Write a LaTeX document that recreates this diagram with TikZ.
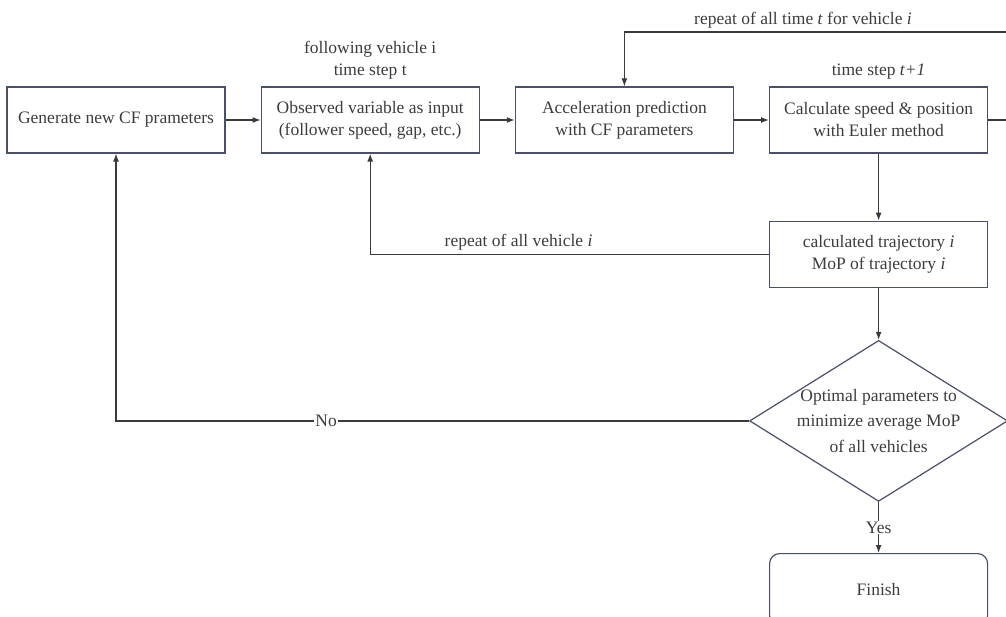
\documentclass[tikz,border=0pt]{standalone}
\usepackage{fontspec}
\setmainfont{Liberation Serif}
\usepackage{tikz}
\usetikzlibrary{arrows.meta,positioning,calc,shapes.geometric}
\definecolor{boxc}{HTML}{4A4F6C}
\definecolor{linec}{HTML}{3A3A3A}
\definecolor{txtc}{HTML}{3C3C3C}
\begin{document}
\begin{tikzpicture}[x=1pt,y=1pt,node distance=35pt,font=\fontsize{17.5}{22}\selectfont,text=txtc]
\tikzset{proc/.style={draw=boxc,line width=1.2pt,minimum width=218pt,minimum height=66pt,align=center},
  dec/.style={draw=boxc,line width=1.2pt,diamond,minimum width=258pt,minimum height=161pt,inner sep=0pt},
  lbl/.style={align=center},
  arr/.style={draw=linec,line width=1.2pt,-{Latex[length=8pt,width=6pt]}}}
\useasboundingbox (0,0) rectangle (1006,-617);
\node[proc] (gen) at (116,-120) {Generate new CF prameters};
\node[proc,right=of gen] (obs) {Observed variable as input\\(follower speed, gap, etc.)};
\node[proc,right=of obs] (acc) {Acceleration prediction\\with CF parameters};
\node[proc,right=of acc] (calc) {Calculate speed \& position\\with Euler method};
\node[proc,below=67pt of calc] (traj) {calculated trajectory \textit{i}\\MoP of trajectory \textit{i}};
\node[dec,below=52pt of traj] (opt) {};
\node[lbl,font=\fontsize{17.5}{25.5}\selectfont] (optt) at (opt) {Optimal parameters to\\minimize average MoP\\of all vehicles};
\node[proc,rounded corners=10pt,minimum height=72pt,below=51pt of opt] (fin) {Finish};
\node[lbl,above=4pt of obs] (obsl) {following vehicle i\\time step t};
\node[lbl,above=4pt of calc] (calcl) {time step \textit{t+1}};
\coordinate (tr) at (1012,-32);
\draw[arr] (gen)--(obs); \draw[arr] (obs)--(acc); \draw[arr] (acc)--(calc); \draw[arr] (calc)--(traj); \draw[arr] (traj)--(opt);
\draw[arr] (calc.east) -| (tr) -| (acc.north);
\node[lbl,above] (repl) at (803,-32) {repeat of all time \textit{t} for vehicle \textit{i}};
\draw[arr] (traj.west) -| (obs.south) node[pos=0.314,above] {repeat of all vehicle \textit{i}};
\draw[arr] (opt.west) -| (gen.south) node[pos=0.334,fill=white,inner sep=1pt] {No};
\draw[arr] (opt.south) -- node[fill=white,inner sep=1pt] {Yes} (fin.north);
\end{tikzpicture}
\end{document}
